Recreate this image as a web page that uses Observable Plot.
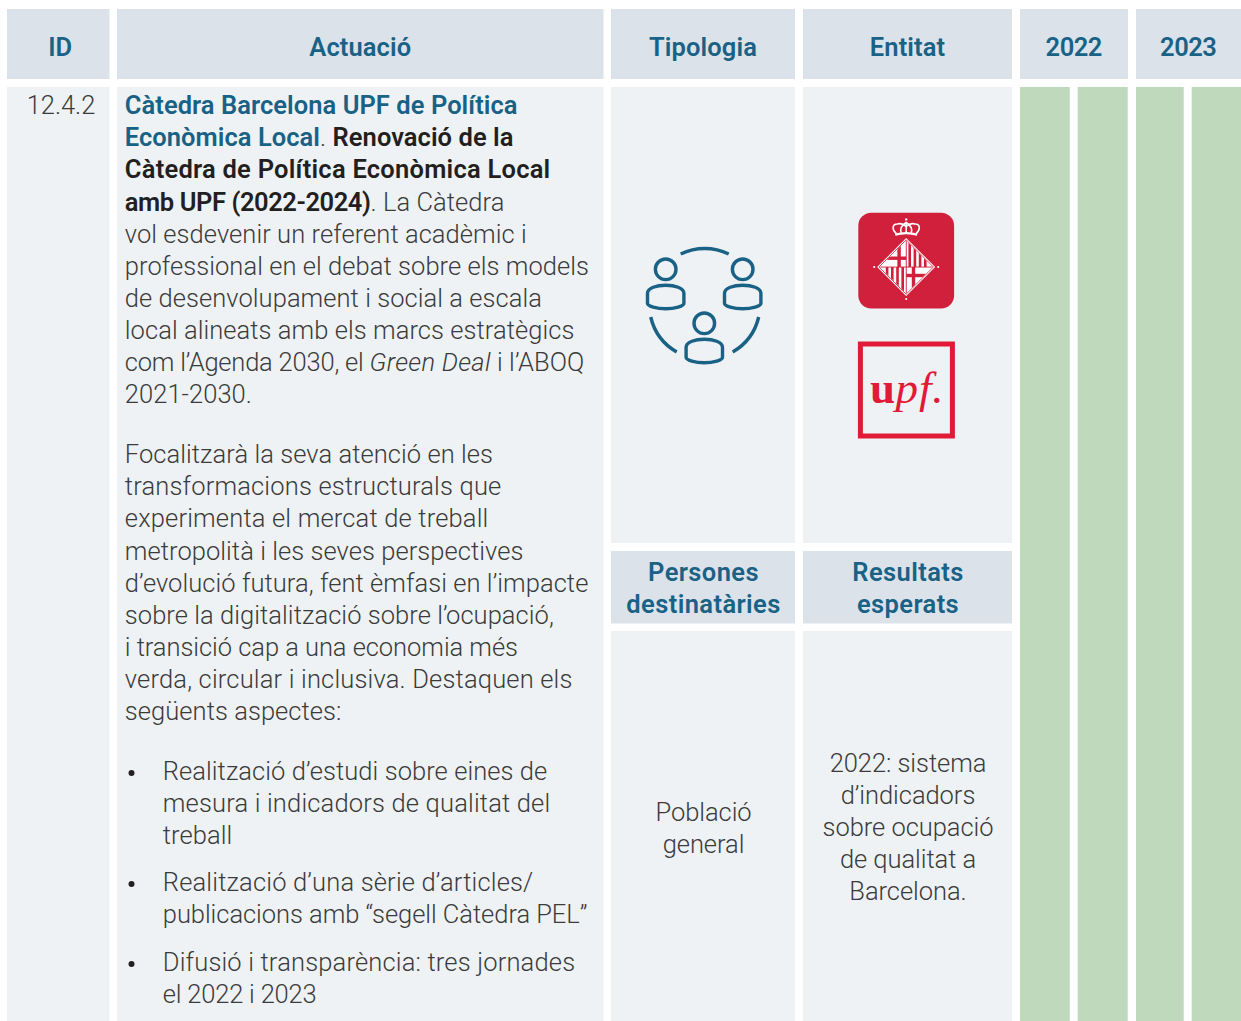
<!DOCTYPE html>
<html lang="ca">
<head>
<meta charset="utf-8">
<script src="https://cdn.jsdelivr.net/npm/d3@7"></script>
<script src="https://cdn.jsdelivr.net/npm/@observablehq/plot@0.6"></script>
<style>
html,body{margin:0;padding:0;background:#fff;overflow:hidden}
svg{display:block}
</style>
</head>
<body>
<div id="chart"></div>
<script>
// ---- content ----
const wordHeaders = ["ID", "Actuació", "Tipologia", "Entitat"];
const yearHeaders = ["2022", "2023"];
const subHeaders = { tipologia: ["Persones", "destinatàries"], entitat: ["Resultats", "esperats"] };
const idLabel = "12.4.2";
const persones = ["Població", "general"];
const resultats = ["2022: sistema", "d’indicadors", "sobre ocupació", "de qualitat a", "Barcelona."];
const titleLines = [
  [["Càtedra Barcelona UPF de Política", "link"]],
  [["Econòmica Local", "link"], [".", "light"], [" Renovació de la", "bold"]],
  [["Càtedra de Política Econòmica Local", "boldWide"]],
  [["amb UPF (2022-2024)", "boldTight"], [". La Càtedra", "light"]],
  [["vol esdevenir un referent acadèmic i", "light"]],
  [["professional en el debat sobre els models", "light"]],
  [["de desenvolupament i social a escala", "light"]],
  [["local alineats amb els marcs estratègics", "light"]],
  [["com l’Agenda 2030, el ", "lightTight"], ["Green Deal", "italic"], [" i l’ABOQ", "light"]],
  [["2021-2030.", "light"]]
];
const focusLines = [
  ["Focalitzarà la seva atenció en les", "light"],
  ["transformacions estructurals que", "lightWide"],
  ["experimenta el mercat de treball", "lightWide"],
  ["metropolità i les seves perspectives", "light"],
  ["d’evolució futura, fent èmfasi en l’impacte", "light"],
  ["sobre la digitalització sobre l’ocupació,", "light"],
  ["i transició cap a una economia més", "lightSlim"],
  ["verda, circular i inclusiva. Destaquen els", "lightWide"],
  ["següents aspectes:", "light"]
];
const bullets = [
  [["Realització d’estudi sobre eines de", "light"], ["mesura i indicadors de qualitat del", "lightWide"], ["treball", "light"]],
  [["Realització d’una sèrie d’articles/", "lightWide"], ["publicacions amb “segell Càtedra PEL”", "lightSlim"]],
  [["Difusió i transparència: tres jornades", "lightWide"], ["el 2022 i 2023", "lightTight"]]
];

// ---- layout ----
const W = 1241, H = 1021;
const colEdges = [[7,109.5],[117,603.5],[611,795],[803,1012],[1020,1128],[1136,1241]];
const quarterEdges = [[1020,1069.7],[1077.7,1127.7],[1136,1183.7],[1191.7,1241]];
const headTop = 9, headBottom = 79, bodyTop = 87;
const midRows = { upperEnd: 543, subTop: 551, subEnd: 623.5, lowerTop: 631 };
const colors = { head:"#dbe2ea", body:"#eef2f5", green:"#bed9bc", blue:"#1a6285", ink:"#3b3b3b", dark:"#231f20", cat:"#d1203b", upf:"#e01a37" };
const F = "Roboto, sans-serif";
const bodySize = 25.5, headSize = 25.5, lh = 32.08;
const styleOf = {
  link:{weight:600,style:"normal",fill:colors.blue,ls:0.05},
  bold:{weight:600,style:"normal",fill:colors.dark,ls:0.05},
  boldWide:{weight:600,style:"normal",fill:colors.dark,ls:0.24},
  boldTight:{weight:600,style:"normal",fill:colors.dark,ls:-0.42},
  light:{weight:300,style:"normal",fill:colors.ink,ls:0.06},
  lightWide:{weight:300,style:"normal",fill:colors.ink,ls:0.17},
  lightSlim:{weight:300,style:"normal",fill:colors.ink,ls:-0.05},
  lightTight:{weight:300,style:"normal",fill:colors.ink,ls:-0.2},
  italic:{weight:300,style:"italic",fill:colors.ink,ls:0.3}
};

const ctx = document.createElement("canvas").getContext("2d");
function width(t, k) {
  const s = styleOf[k];
  ctx.font = `${s.style} ${s.weight} ${bodySize}px Roboto`;
  return ctx.measureText(t).width + s.ls * t.length;
}

const runs = [];
function addLine(line, x, y) {
  let cx = x;
  for (const [t, k] of line) {
    runs.push({ t, k, x: cx, y });
    cx += width(t, k);
  }
}
titleLines.forEach((l, i) => addLine(l, 124.3, 105.6 + i * lh));
focusLines.forEach((l, i) => addLine([l], 124.3, 454.6 + i * lh));
const bulletStarts = [771.6, 882.6, 962.6];
bullets.forEach((b, j) => b.forEach((l, i) => addLine([l], 162.3, bulletStarts[j] + i * lh)));

const cells = [
  ...colEdges.map((e) => ({ x1:e[0], x2:e[1], y1:headTop, y2:headBottom, fill:colors.head })),
  { x1:7, x2:109.5, y1:bodyTop, y2:H, fill:colors.body },
  { x1:117, x2:603.5, y1:bodyTop, y2:H, fill:colors.body },
  ...[colEdges[2], colEdges[3]].flatMap((e) => [
    { x1:e[0], x2:e[1], y1:bodyTop, y2:midRows.upperEnd, fill:colors.body },
    { x1:e[0], x2:e[1], y1:midRows.subTop, y2:midRows.subEnd, fill:colors.head },
    { x1:e[0], x2:e[1], y1:midRows.lowerTop, y2:H, fill:colors.body }
  ]),
  ...quarterEdges.map((e) => ({ x1:e[0], x2:e[1], y1:bodyTop, y2:H, fill:colors.green }))
];

const mainLabels = wordHeaders.map((t, i) => ({ t, x:(colEdges[i][0]+colEdges[i][1])/2 + (i === 0 ? 1.5 : -0.5), y:47.5 }));
const yearLabels = yearHeaders.map((t, i) => ({ t, x:(colEdges[i+4][0]+colEdges[i+4][1])/2 - 0.8, y:47.5 }));
const subLabels = [
  ...subHeaders.tipologia.map((t, i) => ({ t, x:703, y:572.8 + i*32 })),
  ...subHeaders.entitat.map((t, i) => ({ t, x:907.5, y:572.8 + i*32 }))
];
const centered = [
  { t:idLabel, x:60.5, y:105.6 },
  ...persones.map((t, i) => ({ t, x:703, y:812.2 + i*32 })),
  ...resultats.map((t, i) => ({ t, x:907.5, y:763.7 + i*32 }))
];
const bulletDots = bulletStarts.map((y) => ({ x:131, y:y+1 }));

// ---- decorative logos placed through the scales ----
function iconGroup(px, py, build) {
  return (index, { x, y }) => {
    const g = d3.create("svg:g").attr("transform", `translate(${x(px)},${y(py)})`);
    build(g);
    return g.node();
  };
}
const peopleIcon = iconGroup(704.7, 304, (g) => {
  g.attr("fill","none").attr("stroke",colors.blue).attr("stroke-width",3.4);
  g.append("path").attr("d", "M-24,-50 A55,55 0 0 1 24,-50");
  g.append("path").attr("d", "M-54,13 A55,55 0 0 0 -28,48");
  g.append("path").attr("d", "M54,13 A55,55 0 0 1 28,48");
  for (const [hx, hy] of [[-39,-34.7],[38,-34.7],[-0.4,19.3]]) {
    const p = g.append("g").attr("transform", `translate(${hx},${hy})`);
    p.append("circle").attr("r",10.3);
    p.append("path").attr("d","M-18.2,24 C-18.2,18.5 -9,16 0,16 C9,16 18.2,18.5 18.2,24 L18.2,34 C18.2,37 9,39.4 0,39.4 C-9,39.4 -18.2,37 -18.2,34 Z");
  }
});
const cityLogo = iconGroup(906.2, 267, (g) => {
  g.append("rect").attr("x",-47.9).attr("y",-54.3).attr("width",95.8).attr("height",95.8).attr("rx",13).attr("fill",colors.cat);
  const c = g.append("g").attr("fill","none").attr("stroke","#fff").attr("stroke-width",1.6);
  c.append("path").attr("d","M-10,-33.5 C-14.5,-37 -14,-43 -9,-43 C-5,-44 -2,-42.5 0,-40.5 C2,-42.5 5,-44 9,-43 C14,-43 14.5,-37 10,-33.5");
  c.append("path").attr("d","M-5,-34 C-6.5,-38 -4,-42 0,-44.5 C4,-42 6.5,-38 5,-34 M0,-44 L0,-34");
  c.append("path").attr("d","M-11,-32.4 Q0,-35.5 11,-32.4").attr("stroke-width",2.2);
  g.append("circle").attr("cy",-47.6).attr("r",1.2).attr("fill","#fff");
  g.append("path").attr("d","M0,-29 L29,0 L0,29 L-29,0 Z").attr("fill","#fff");
  const id = "shieldclip";
  g.append("clipPath").attr("id",id).append("path").attr("d","M0,-26.5 L26.5,0 L0,26.5 L-26.5,0 Z");
  g.append("path").attr("d","M0,-27.2 L27.2,0 L0,27.2 L-27.2,0 Z").attr("fill","none").attr("stroke",colors.cat).attr("stroke-width",0.8);
  const s = g.append("g").attr("clip-path",`url(#${id})`).attr("fill",colors.cat);
  const rect = (x,y,w,h) => s.append("rect").attr("x",x).attr("y",y).attr("width",w).attr("height",h);
  rect(-8.8,-27,3.4,27); rect(-27,-10.5,27,3.4);
  rect(5.6,0,3.4,27); rect(0,6.8,27,3.4);
  for (const px of [2.2,7.4,12.6,17.8]) rect(px,-27,2.6,27);
  for (const px of [-20.4,-15.2,-10,-4.8]) rect(px,0,2.6,27);
  rect(-27,-0.4,54,0.9); rect(-0.4,-27,0.9,54);
  for (const [dx,dy] of [[-32,0],[32,0],[0,32]]) g.append("circle").attr("cx",dx).attr("cy",dy).attr("r",1.1).attr("fill","#fff");
});
const upfFrame = iconGroup(906.4, 390, (g) => {
  g.append("rect").attr("x",-46).attr("y",-46).attr("width",92).attr("height",92).attr("fill","none").attr("stroke",colors.upf).attr("stroke-width",5);
});

// ---- the table ----
const texts = Object.keys(styleOf).map((k) =>
  Plot.text(runs.filter((d) => d.k === k), {
    x:"x", y:"y", text:"t", textAnchor:"start", lineAnchor:"middle",
    fontFamily:F, fontSize:bodySize, fontWeight:styleOf[k].weight, fontStyle:styleOf[k].style,
    fill:styleOf[k].fill, className:"run-"+k
  }));
const headMark = (rows, cls) => Plot.text(rows, { x:"x", y:"y", text:"t", lineAnchor:"middle", fontFamily:F, fontSize:headSize, fontWeight:600, fill:colors.blue, className:cls });

const plot = Plot.plot({
  width:W, height:H, margin:0,
  x:{domain:[0,W], range:[0,W], axis:null},
  y:{domain:[0,H], range:[0,H], axis:null},
  style:{background:"#fff"},
  marks:[
    Plot.rect(cells, { x1:"x1", x2:"x2", y1:"y1", y2:"y2", fill:(d)=>d.fill }),
    headMark(mainLabels, "head-main"),
    headMark(yearLabels, "head-year"),
    headMark(subLabels, "head-sub"),
    Plot.text(centered, { x:"x", y:"y", text:"t", lineAnchor:"middle", fontFamily:F, fontSize:bodySize, fontWeight:300, fill:colors.ink, className:"run-lightSlim" }),
    ...texts,
    Plot.dot(bulletDots, { x:"x", y:"y", r:3, fill:colors.dark }),
    peopleIcon, cityLogo, upfFrame,
    Plot.text(["u"], { x:[869.5], y:[398.5], textAnchor:"start", lineAnchor:"bottom", fontFamily:"Liberation Serif", fontWeight:700, fontSize:45, fill:colors.upf, dy:4 }),
    Plot.text(["pf."], { x:[895], y:[398.5], textAnchor:"start", lineAnchor:"bottom", fontFamily:"Liberation Serif", fontStyle:"italic", fontSize:45, fill:colors.upf, dy:4, className:"upf-pf" })
  ]
});
const sheet = document.createElement("style");
sheet.textContent = Object.entries(styleOf).map(([k,s]) => `.run-${k}{letter-spacing:${s.ls}px}`).join("") +
  ".head-main{letter-spacing:.1px}.head-year{letter-spacing:-.5px}.head-sub{letter-spacing:.4px}.upf-pf{letter-spacing:.9px}";
document.head.appendChild(sheet);
document.getElementById("chart").appendChild(plot);
</script>
</body>
</html>
